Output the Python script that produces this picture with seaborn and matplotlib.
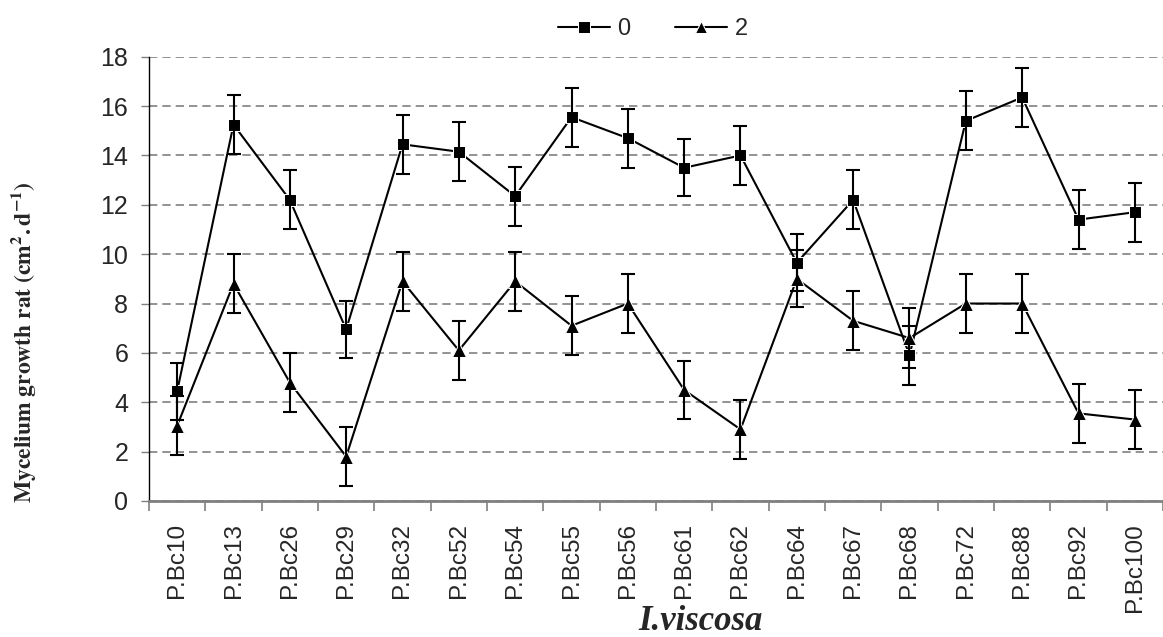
import matplotlib
matplotlib.use("Agg")
import matplotlib.pyplot as plt
import seaborn as sns
import pandas as pd

# Isolates and mean mycelium growth rates (with standard errors) for two doses
isolates = ["P.Bc10", "P.Bc13", "P.Bc26", "P.Bc29", "P.Bc32", "P.Bc52", "P.Bc54",
            "P.Bc55", "P.Bc56", "P.Bc61", "P.Bc62", "P.Bc64", "P.Bc67", "P.Bc68",
            "P.Bc72", "P.Bc88", "P.Bc92", "P.Bc100"]
rate_0 = [4.45, 15.25, 12.2, 6.95, 14.45, 14.15, 12.35, 15.55, 14.7, 13.5,
          14.0, 9.65, 12.2, 5.9, 15.4, 16.35, 11.4, 11.7]
err_0 = [1.15, 1.2, 1.2, 1.15, 1.2, 1.2, 1.2, 1.2, 1.2, 1.15,
         1.2, 1.15, 1.2, 1.2, 1.2, 1.2, 1.2, 1.2]
rate_2 = [3.05, 8.8, 4.8, 1.8, 8.9, 6.1, 8.9, 7.1, 8.0, 4.5,
          2.9, 9.0, 7.3, 6.6, 8.0, 8.0, 3.55, 3.3]
err_2 = [1.2, 1.2, 1.2, 1.2, 1.2, 1.2, 1.2, 1.2, 1.2, 1.17,
         1.2, 1.15, 1.2, 1.2, 1.2, 1.2, 1.2, 1.2]
doses = ["0", "2"]
y_ticks = [0, 2, 4, 6, 8, 10, 12, 14, 16, 18]

df = pd.concat([
    pd.DataFrame({"isolate": isolates, "rate": rate_0, "err": err_0, "dose": doses[0]}),
    pd.DataFrame({"isolate": isolates, "rate": rate_2, "err": err_2, "dose": doses[1]}),
], ignore_index=True)

sns.set_style("white")
plt.rcParams["font.family"] = ["Liberation Sans", "DejaVu Sans"]
plt.rcParams["mathtext.fontset"] = "stix"

fig = plt.figure(figsize=(11.63, 6.37), dpi=100)
ax = fig.add_axes([149 / 1163, 136 / 637, 1 - 149 / 1163, (501 - 56.7) / 637])

sns.lineplot(data=df, x="isolate", y="rate", style="dose", markers=["s", "^"],
             dashes=False, color="black", linewidth=1.5, markersize=8.5,
             sort=False, ax=ax, zorder=3)

# Error bars for each dose
for dose in doses:
    sub = df[df["dose"] == dose]
    ax.errorbar(sub["isolate"], sub["rate"], yerr=sub["err"], fmt="none",
                ecolor="black", elinewidth=1.5, capsize=5, capthick=1.5, zorder=4)

# Enlarge the triangle markers a little
for line in ax.get_lines():
    if line.get_marker() == "^":
        line.set_markersize(10)

ax.set_xlim(-0.5, len(isolates) - 0.5)
ax.set_ylim(0, 18)
ax.set_yticks(y_ticks)
ax.set_xticks(range(len(isolates)))
ax.set_xticklabels(isolates, rotation=90, fontsize=17.5)
ax.tick_params(axis="y", labelsize=18, length=6, width=1, color="#808080",
               direction="out", pad=9, left=True)
# Category ticks sit between the isolates
ax.set_xticks([i + 0.5 for i in range(-1, len(isolates))], minor=True)
ax.tick_params(axis="x", which="major", length=0, pad=16)
ax.tick_params(axis="x", which="minor", length=7, width=1.2, color="#808080",
               direction="out", bottom=True)

ax.yaxis.grid(True, color="#808080", linestyle=(0, (5, 3)), linewidth=1.2)
ax.xaxis.grid(False)
ax.set_axisbelow(True)

for side in ["top", "right"]:
    ax.spines[side].set_visible(False)
ax.spines["left"].set_color("black")
ax.spines["left"].set_linewidth(1.0)
ax.spines["bottom"].set_color("#808080")
ax.spines["bottom"].set_linewidth(2.0)

ax.set_xlabel("")
ax.set_ylabel(r"$\mathbf{Mycelium\ growth\ rat\ (cm^{2}.d^{-1})}$", fontsize=17)
ax.yaxis.label.set_va("center")
ax.yaxis.set_label_coords((24 - 149) / 1014, (501 - 342) / 444.3)

fig.text(701 / 1163, 1 - 630 / 637, "I.viscosa", fontsize=25, fontweight="bold",
         fontstyle="italic", family="Liberation Serif", ha="center", va="baseline")

sns.move_legend(ax, "upper center", bbox_to_anchor=(653 / 1163, 1.005),
                bbox_transform=fig.transFigure, ncol=2, frameon=False, title=None,
                fontsize=17, handlelength=2.2, handletextpad=0.3, columnspacing=1.9)

fig.savefig("out.png", dpi=100)
